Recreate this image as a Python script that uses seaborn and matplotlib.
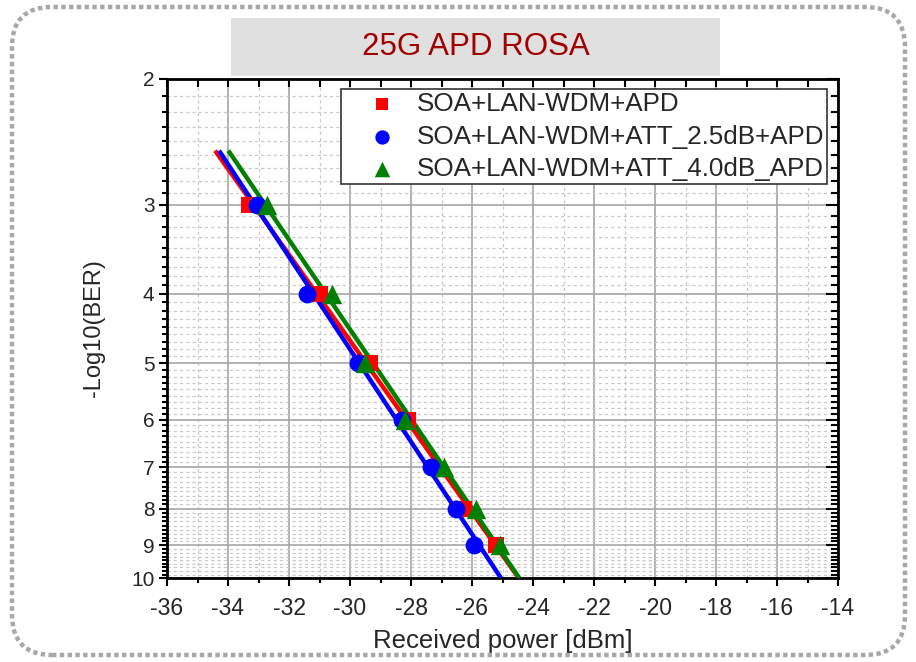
import numpy as np
import pandas as pd
import matplotlib
matplotlib.use("Agg")
import matplotlib.pyplot as plt
import seaborn as sns
from matplotlib.patches import FancyBboxPatch, Rectangle
from matplotlib.ticker import FixedLocator, NullFormatter
from matplotlib.transforms import IdentityTransform

sns.set_theme(style="white")
plt.rcParams["font.family"] = ["Liberation Sans", "DejaVu Sans"]

# Measured BER curves: received power [dBm] vs -log10(BER)
series_names = ["SOA+LAN-WDM+APD",
                "SOA+LAN-WDM+ATT_2.5dB+APD",
                "SOA+LAN-WDM+ATT_4.0dB_APD"]
power_apd = [-33.30, -31.00, -29.35, -28.10, -26.25, -25.20]
ber_apd = [3, 4, 5, 6, 8, 9]
power_att25 = [-33.05, -31.40, -29.75, -28.28, -27.33, -26.52, -25.92]
ber_att25 = [3, 4, 5, 6, 7, 8, 9]
power_att40 = [-32.72, -30.60, -29.50, -28.20, -26.93, -25.87, -25.08]
ber_att40 = [3, 4, 5, 6, 7, 8, 9]

colors = ["#ff0000", "#0000ff", "#008000"]
markers = ["s", "o", "^"]
marker_sizes = [125, 165, 195]

x_ticks = list(range(-36, -13, 2))
y_ticks = [2, 3, 4, 5, 6, 7, 8, 9, 10]

frames = []
for name, p, b in zip(series_names,
                      [power_apd, power_att25, power_att40],
                      [ber_apd, ber_att25, ber_att40]):
    frames.append(pd.DataFrame({"power": p, "nlogber": b, "series": name}))
df = pd.concat(frames, ignore_index=True)

W, H = 916, 662
fig = plt.figure(figsize=(W / 100, H / 100), dpi=100)
fig.patch.set_facecolor("white")

# axes placement in pixels
L, R, T, B = 167, 838, 79, 578
ax = fig.add_axes([L / W, 1 - B / H, (R - L) / W, (B - T) / H])

# linear fit of power against log(-log10 BER), drawn over the plotted range
fit_top, fit_bottom = 2.52, 10.0
for name, c in zip(series_names, colors):
    sub = df[df.series == name]
    k, b0 = np.polyfit(np.log10(sub.nlogber), sub.power, 1)
    yy = np.array([fit_top, fit_bottom])
    ax.plot(k * np.log10(yy) + b0, yy, color=c, lw=3.2, zorder=3,
            solid_capstyle="butt")

for name, c, m, s in zip(series_names, colors, markers, marker_sizes):
    sub = df[df.series == name]
    sns.scatterplot(data=sub, x="power", y="nlogber", color=c, marker=m,
                    s=s, linewidth=0, ax=ax, zorder=4, label=name,
                    legend=False)

minor_y = [m + k / 9 for m in range(2, 10) for k in range(1, 9)]
minor_x = list(range(-35, -14, 2))

ax.set_yscale("log")
ax.set_xlim(-36, -14)
ax.set_ylim(10, 2)
ax.xaxis.set_major_locator(FixedLocator(x_ticks))
ax.xaxis.set_minor_locator(FixedLocator(minor_x))
ax.yaxis.set_major_locator(FixedLocator(y_ticks))
ax.yaxis.set_minor_locator(FixedLocator(minor_y))
ax.xaxis.set_minor_formatter(NullFormatter())
ax.yaxis.set_minor_formatter(NullFormatter())
ax.set_xticklabels([str(v) for v in x_ticks], fontsize=16.5)
ax.set_yticklabels([str(v) for v in y_ticks], fontsize=15)
ax.tick_params(axis="both", which="major", direction="out", length=6,
               width=1.5, color="black")
ax.tick_params(axis="both", which="minor", direction="out", length=3.5,
               width=1.5, color="black")
ax.tick_params(axis="x", pad=8)
ax.tick_params(axis="y", pad=3)

ax.grid(which="major", color="#a6a6a6", lw=1.2, ls="-")
ax.grid(which="minor", color="#c8c8c8", lw=0.9, ls=(0, (2.5, 2.5)))
ax.set_axisbelow(True)
for sp in ax.spines.values():
    sp.set_color("black")
    sp.set_linewidth(2.0)

# mirrored ticks on top and right, pointing inward
axt = ax.twiny()
axt.set_xlim(-36, -14)
axt.xaxis.set_major_locator(FixedLocator(x_ticks))
axt.xaxis.set_minor_locator(FixedLocator(minor_x))
axt.xaxis.set_major_formatter(NullFormatter())
axt.xaxis.set_minor_formatter(NullFormatter())
axt.tick_params(axis="x", which="both", direction="in", length=6,
                width=1.5, color="black", top=True, labeltop=False)
axt.tick_params(axis="y", which="both", left=False, right=False,
                labelleft=False, labelright=False)
axr = ax.twinx()
axr.set_yscale("log")
axr.set_ylim(10, 2)
axr.yaxis.set_major_locator(FixedLocator(y_ticks))
axr.yaxis.set_minor_locator(FixedLocator(minor_y))
axr.yaxis.set_major_formatter(NullFormatter())
axr.yaxis.set_minor_formatter(NullFormatter())
axr.tick_params(axis="y", which="major", direction="in", length=9,
                width=1.5, color="black", right=True, labelright=False)
axr.tick_params(axis="y", which="minor", direction="in", length=5,
                width=1.5, color="black", right=True)
axr.tick_params(axis="x", which="both", bottom=False, top=False,
                labelbottom=False, labeltop=False)
for a in (axt, axr):
    for sp in a.spines.values():
        sp.set_visible(False)
    a.patch.set_visible(False)

ax.set_xlabel("Received power [dBm]", fontsize=18.5, labelpad=6)
ax.set_ylabel("-Log10(BER)", fontsize=17, labelpad=19)

leg = ax.legend(loc="upper right", bbox_to_anchor=(0.984, 0.980),
                borderaxespad=0, fontsize=18.7, frameon=True, fancybox=False,
                edgecolor="#333333", framealpha=1, handletextpad=-0.15,
                labelspacing=0.33, borderpad=0.12, handlelength=2.95,
                markerscale=0.8)
leg.get_frame().set_linewidth(1.2)
leg.set_zorder(10)

# title banner
fig.patches.append(Rectangle((231, H - 76), 489, 58, transform=IdentityTransform(),
                             facecolor="#e0e0e0", edgecolor="none", zorder=0))
fig.text(475.5 / W, 1 - 47 / H, "25G APD ROSA", ha="center", va="center",
         color="#a00000", fontsize=22.5)

# rounded dashed frame around the whole chart
fig.patches.append(FancyBboxPatch((12, 7), 893, 648,
                                  boxstyle="round,pad=0,rounding_size=40",
                                  transform=IdentityTransform(),
                                  facecolor="none", edgecolor="#a8a8a8",
                                  lw=3.2, ls=(0, (1.0, 0.75)), zorder=0))

fig.savefig("out.png", dpi=100, facecolor="white")
